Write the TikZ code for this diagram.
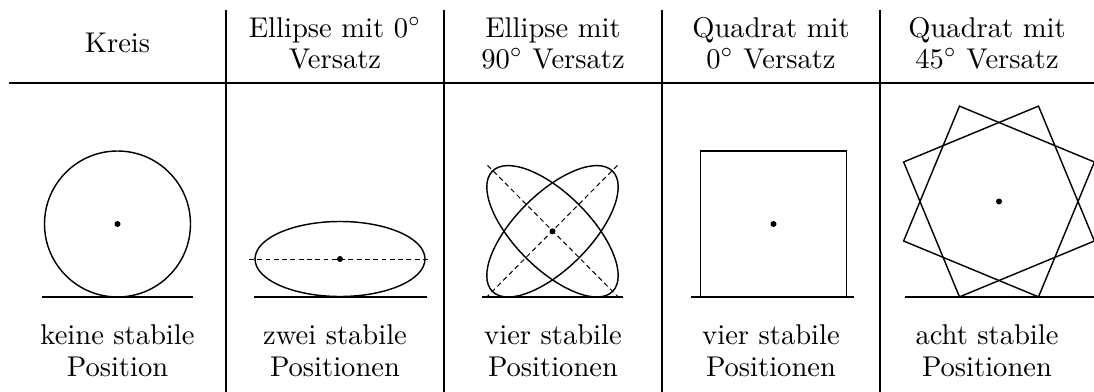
\documentclass[tikz,border=0pt]{standalone}
\begin{document}
\begin{tikzpicture}[x=0.35pt,y=-0.35pt,
  rule/.style={line width=0.4pt},
  outline/.style={line width=0.5pt},
  ground/.style={line width=0.7pt},
  axis/.style={line width=0.35pt, dash pattern=on 1.7pt off 1.2pt},
  dot/.style={fill=black},
  txt/.style={anchor=base, inner sep=0pt, font=\fontsize{10}{12}\selectfont}]
\useasboundingbox (0,0) rectangle (1094,392);
% table rules
\coordinate (hl) at (9,83); \coordinate (hr) at (1094,83);
\draw[rule] (hl) -- (hr);
\foreach \x [count=\i] in {226,444,662,880}{
  \coordinate (vt\i) at (\x,10); \coordinate (vb\i) at (\x,392);
  \draw[rule] (vt\i) -- (vb\i);
}
% headers
\node[txt] (h1) at (117.5,53) {Kreis};
\node[txt] (h2a) at (335,37) {Ellipse mit $0^\circ$};
\node[txt] (h2b) at (335,68) {Versatz};
\node[txt] (h3a) at (553,37) {Ellipse mit};
\node[txt] (h3b) at (553,68) {$90^\circ$ Versatz};
\node[txt] (h4a) at (771,37) {Quadrat mit};
\node[txt] (h4b) at (771,68) {$0^\circ$ Versatz};
\node[txt] (h5a) at (987,37) {Quadrat mit};
\node[txt] (h5b) at (987,68) {$45^\circ$ Versatz};
% footers
\node[txt] (f1a) at (117.5,344) {keine stabile};
\node[txt] (f1b) at (117.5,376) {Position};
\node[txt] (f2a) at (335,344) {zwei stabile};
\node[txt] (f2b) at (335,376) {Positionen};
\node[txt] (f3a) at (553,344) {vier stabile};
\node[txt] (f3b) at (553,376) {Positionen};
\node[txt] (f4a) at (771,344) {vier stabile};
\node[txt] (f4b) at (771,376) {Positionen};
\node[txt] (f5a) at (987,344) {acht stabile};
\node[txt] (f5b) at (987,376) {Positionen};
% column 1: circle
\draw[outline] (117.5,224) circle[radius=73];
\fill[dot] (117.5,224) circle[radius=3];
\draw[ground] (42,297) -- (193,297);
% column 2: ellipse 0
\draw[axis] (249,259) -- (431,259);
\draw[outline] (340,259) ellipse[x radius=85, y radius=37.5];
\fill[dot] (340,259) circle[radius=3];
\draw[ground] (254,297) -- (427,297);
% column 3: ellipses 90
\draw[axis] (487.5,165.3) -- (617.5,296.3);
\draw[axis] (617.5,165.3) -- (487.5,296.3);
\draw[outline,rotate around={45:(552.5,231.3)}] (552.5,231.3) ellipse[x radius=85, y radius=37.5];
\draw[outline,rotate around={-45:(552.5,231.3)}] (552.5,231.3) ellipse[x radius=85, y radius=37.5];
\fill[dot] (552.5,231.3) circle[radius=3];
\draw[ground] (482,297) -- (623,297);
% column 4: square
\draw[outline] (700.5,151) rectangle (846.5,297);
\fill[dot] (773.5,224) circle[radius=3];
\draw[ground] (691,297) -- (854,297);
% column 5: two squares
\begin{scope}[shift={(999,201.5)}]
\draw[outline,rotate=22.5] (-73,-73) rectangle (73,73);
\draw[outline,rotate=-22.5] (-73,-73) rectangle (73,73);
\fill[dot] (0,0) circle[radius=3];
\end{scope}
\draw[ground] (905,297) -- (1094,297);
\end{tikzpicture}
\end{document}
